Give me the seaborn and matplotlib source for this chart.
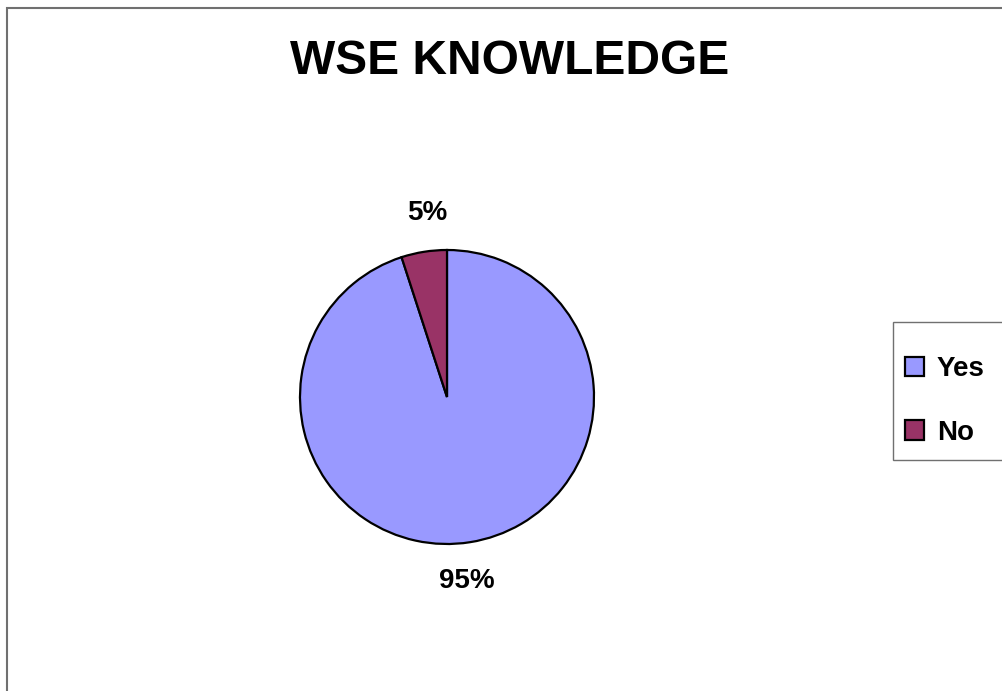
import matplotlib
matplotlib.use("Agg")
import matplotlib.pyplot as plt
import seaborn as sns
from matplotlib.patches import Rectangle

# Data
categories = ["Yes", "No"]
shares = [95, 5]
slice_colors = ["#9999FF", "#993366"]
title_text = "WSE KNOWLEDGE"

sns.set_theme(style="white")
plt.rcParams["font.family"] = ["Liberation Sans", "DejaVu Sans"]

W, H = 1003, 691
fig = plt.figure(figsize=(W / 100, H / 100), dpi=100)
fig.patch.set_facecolor("white")

# Outer chart frame (runs off the right and bottom edges)
fig.patches.append(Rectangle((7 / W, -0.05), 1.1, 1 - 8 / H + 0.05,
                             transform=fig.transFigure, fill=False,
                             edgecolor="#707070", linewidth=1.5))

# Pie area: centre (447, 397), radius 147 px
cx, cy, r = 447, 397, 147
ax = fig.add_axes([(cx - r) / W, (H - cy - r) / H, 2 * r / W, 2 * r / H])
wedges, texts = ax.pie(shares, colors=slice_colors, startangle=90, counterclock=False,
                       labels=[f"{v}%" for v in shares], labeldistance=1.27,
                       wedgeprops=dict(edgecolor="black", linewidth=1.6),
                       textprops=dict(fontsize=20, fontweight="bold", color="black"))
# Excel-style labels sit closer to the vertical axis, centred on their anchor
for t in texts:
    x, y = t.get_position()
    t.set_position((x * 0.67, y))
    t.set_ha("center")
    t.set_va("center")
ax.set_xlim(-1, 1)
ax.set_ylim(-1, 1)
ax.set_aspect("equal")
ax.axis("off")

fig.text(510 / W, 1 - 62 / H, title_text, ha="center", va="center",
         fontsize=34.5, fontweight="bold", color="black")

# Legend box (cut off by the right edge) drawn separately
fig.patches.append(Rectangle((893 / W, 1 - 460 / H), 0.2, 138 / H,
                             transform=fig.transFigure, facecolor="white",
                             edgecolor="#707070", linewidth=1.0))
leg = fig.legend(wedges, categories, loc="upper left",
                 bbox_to_anchor=(905 / W, 1 - 356 / H),
                 prop=dict(weight="bold", size=20), labelcolor="black",
                 frameon=False, handlelength=0.7, handleheight=0.7,
                 handletextpad=0.45, labelspacing=1.35, borderpad=0,
                 borderaxespad=0)

fig.savefig("out.png", dpi=100, facecolor="white")
